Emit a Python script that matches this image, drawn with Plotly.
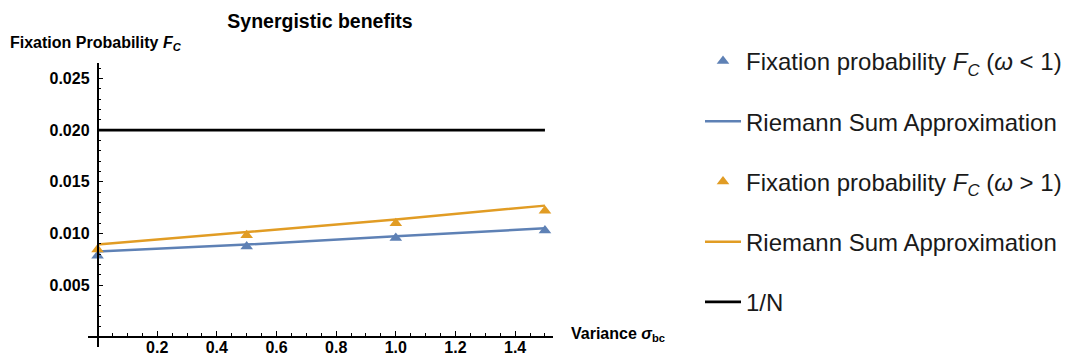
import plotly.graph_objects as go

# ---- data ----
sigma_points = [0.0, 0.5, 1.0, 1.5]
fc_low = [0.00786, 0.00874, 0.00956, 0.0103]
fc_high = [0.00845, 0.00984, 0.0110, 0.0122]
sigma_line = [0.0, 0.5, 1.0, 1.5]
riemann_low = [0.00825, 0.00893, 0.00974, 0.0105]
riemann_high = [0.00893, 0.01016, 0.01136, 0.0127]
inv_n_x = [0.0, 1.5]
inv_n_y = [0.02, 0.02]
x_ticks = [0.2, 0.4, 0.6, 0.8, 1.0, 1.2, 1.4]
y_ticks = [0.005, 0.010, 0.015, 0.020, 0.025]

BLUE = "#5E81B5"
ORANGE = "#E19C24"
FONT = "Liberation Sans, Arial, sans-serif"

XR = [-0.032, 1.527]
YR = [-0.00098, 0.0265]

fig = go.Figure()
fig.add_trace(go.Scatter(x=sigma_points, y=fc_low, mode="markers",
                         marker=dict(symbol="triangle-up", size=11, color=BLUE),
                         name="Fixation probability <i>F</i><sub><i>C</i></sub> (<i>ω</i> < 1)",
                         legendgroup="g1"))
fig.add_trace(go.Scatter(x=sigma_line, y=riemann_low, mode="lines",
                         line=dict(color=BLUE, width=2.5),
                         name="Riemann Sum Approximation", legendgroup="g2"))
fig.add_trace(go.Scatter(x=sigma_points, y=fc_high, mode="markers",
                         marker=dict(symbol="triangle-up", size=11, color=ORANGE),
                         name="Fixation probability <i>F</i><sub><i>C</i></sub> (<i>ω</i> > 1)",
                         legendgroup="g3"))
fig.add_trace(go.Scatter(x=sigma_line, y=riemann_high, mode="lines",
                         line=dict(color=ORANGE, width=2.5),
                         name="Riemann Sum Approximation", legendgroup="g4"))
fig.add_trace(go.Scatter(x=inv_n_x, y=inv_n_y, mode="lines",
                         line=dict(color="black", width=2.8),
                         name="1/N", legendgroup="g5"))

# plot area in pixels
L, R, T, B = 88, 553, 63, 347
W, H = 1066, 356
pw, ph = R - L, B - T

x0_frac = (0 - XR[0]) / (XR[1] - XR[0])
y0_frac = (0 - YR[0]) / (YR[1] - YR[0])

tickfont = dict(family=FONT, size=16, color="black", weight="bold")

fig.update_layout(
    width=W, height=H,
    margin=dict(l=L, r=W - R, t=T, b=H - B, autoexpand=False),
    paper_bgcolor="white", plot_bgcolor="white",
    font=dict(family=FONT, color="black"),
    showlegend=True,
    legend=dict(x=(700 - L) / pw, y=(B - 39) / ph, xanchor="left", yanchor="top",
                font=dict(family=FONT, size=24, color="#1a1a1a"),
                tracegroupgap=26, bgcolor="rgba(0,0,0,0)", itemwidth=36,
                maxheight=1),
    title=dict(text="<b>Synergistic benefits</b>", x=320 / W, xanchor="center",
               y=1 - 21 / H, yanchor="middle",
               font=dict(family=FONT, size=19.5, color="black")),
    xaxis=dict(range=XR, showgrid=False, zeroline=False, showline=True,
               linecolor="black", linewidth=1.6, anchor="free", position=y0_frac,
               tickmode="array", tickvals=x_ticks,
               ticktext=[f"{v:.1f}" for v in x_ticks],
               ticks="inside", ticklen=5, tickwidth=1.3, tickcolor="black",
               tickfont=tickfont, ticklabelstandoff=-4,
               minor=dict(tickmode="linear", tick0=0, dtick=0.05, ticks="inside",
                          ticklen=3, tickwidth=1.2, tickcolor="black", showgrid=False)),
    yaxis=dict(range=YR, showgrid=False, zeroline=False, showline=True,
               linecolor="black", linewidth=1.6, anchor="free", position=x0_frac,
               tickmode="array", tickvals=y_ticks,
               ticktext=[f"{v:.3f}" for v in y_ticks],
               ticks="inside", ticklen=5, tickwidth=1.3, tickcolor="black",
               tickfont=tickfont, ticklabelstandoff=4,
               minor=dict(tickmode="linear", tick0=0, dtick=0.001, ticks="inside",
                          ticklen=3, tickwidth=1.2, tickcolor="black", showgrid=False)),
)

fig.add_annotation(text="<b>Fixation Probability <i>F</i><sub><i>C</i></sub></b>",
                   xref="paper", yref="paper", x=(8 - L) / pw, y=(B - 43) / ph,
                   xanchor="left", yanchor="middle", showarrow=False,
                   font=dict(family=FONT, size=16, color="black"))
fig.add_annotation(text="<b>Variance <i>σ</i><sub>bc</sub></b>",
                   xref="paper", yref="paper", x=(569 - L) / pw, y=(B - 334) / ph,
                   xanchor="left", yanchor="middle", showarrow=False,
                   font=dict(family=FONT, size=16, color="black"))

fig.write_html("out.html")
